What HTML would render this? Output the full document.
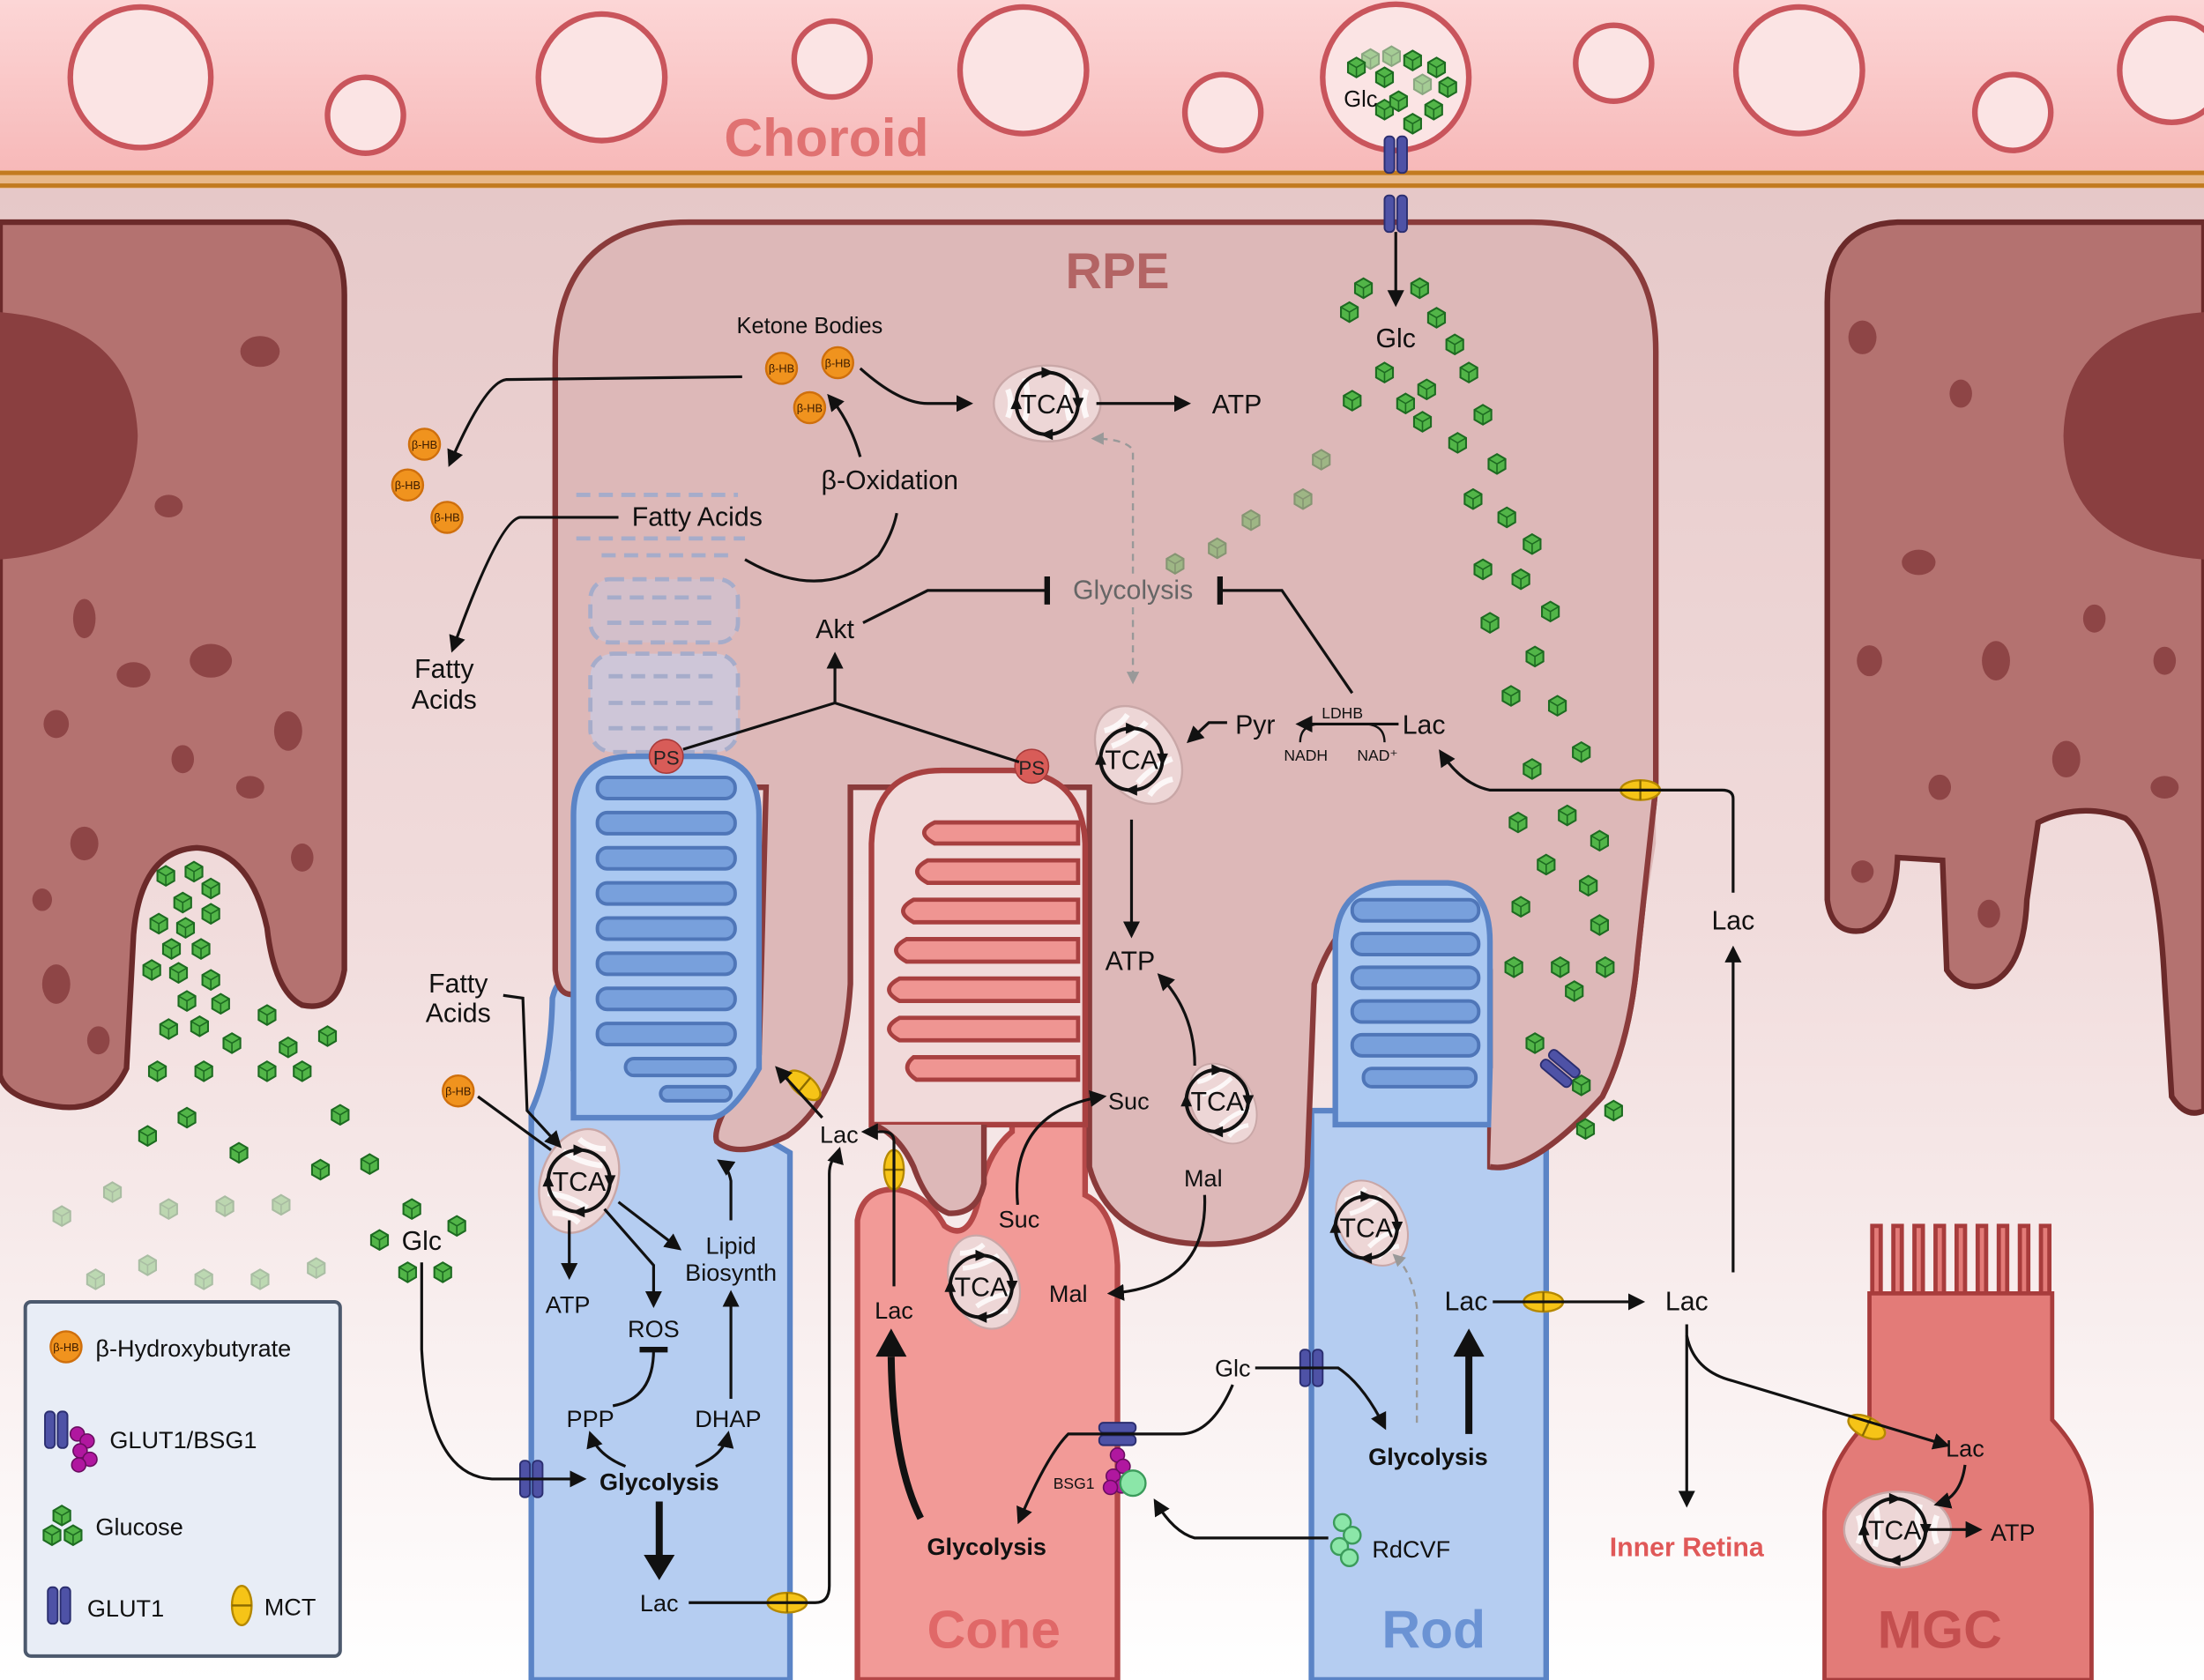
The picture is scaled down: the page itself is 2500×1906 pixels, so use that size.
<!DOCTYPE html>
<html><head><meta charset="utf-8"><style>
html,body{margin:0;padding:0;background:#fff}
svg{display:block}
text{font-family:"Liberation Sans",sans-serif}
</style></head><body>
<svg width="2500" height="1906" viewBox="0 0 1568 1195" preserveAspectRatio="none" xmlns="http://www.w3.org/2000/svg">
<defs>
<linearGradient id="bg" x1="0" y1="0" x2="0" y2="1">
<stop offset="0" stop-color="#e3c3c3"/><stop offset="0.55" stop-color="#f1dcdc"/><stop offset="1" stop-color="#ffffff"/></linearGradient>
<linearGradient id="ch" x1="0" y1="0" x2="0" y2="1">
<stop offset="0" stop-color="#fcd6d6"/><stop offset="1" stop-color="#f7b9b9"/></linearGradient>
<marker id="a" viewBox="0 0 10 10" refX="8" refY="5" markerWidth="6" markerHeight="6" orient="auto"><path d="M0,0L10,5L0,10Z" fill="#111"/></marker>
<marker id="ag" viewBox="0 0 10 10" refX="8" refY="5" markerWidth="6" markerHeight="6" orient="auto"><path d="M0,0L10,5L0,10Z" fill="#999"/></marker>
<marker id="t" viewBox="0 0 4 20" refX="2" refY="10" markerWidth="4" markerHeight="20" markerUnits="userSpaceOnUse" orient="auto"><rect x="0" y="0" width="4" height="20" fill="#111"/></marker>
<g id="gc"><polygon points="0,-7 6,-3.5 6,3.5 0,7 -6,3.5 -6,-3.5" fill="#52b548" stroke="#1d6b21" stroke-width="1.3"/><path d="M-6,-3.5L0,0L6,-3.5M0,0L0,7" stroke="#1d6b21" stroke-width="1" fill="none"/></g>
<g id="mito"><ellipse cx="0" cy="0" rx="38" ry="27" fill="#edd6d6" stroke="#c9a7a7" stroke-width="1.5"/><path d="M-28,-10 q4,10 0,20 M-16,-18 q4,15 0,30 M16,-18 q-4,15 0,30 M28,-10 q-4,10 0,20" stroke="#fff" stroke-width="4" fill="none" opacity=".8"/></g>
<g id="cyc"><circle r="22" fill="none" stroke="#111" stroke-width="2.5"/><path d="M-4,-26L5,-22L-4,-18Z M26,-4L22,5L18,-4Z M4,26L-5,22L4,18Z M-26,4L-22,-5L-18,4Z" fill="#111"/></g>
<g id="hb"><circle r="11" fill="#f0931e" stroke="#cf6f0c" stroke-width="1.5"/></g>
<g id="mct"><ellipse rx="14" ry="7" fill="#f6c417" stroke="#b58800" stroke-width="1.5"/><line x1="0" y1="-7" x2="0" y2="7" stroke="#8a6a00" stroke-width="1.5"/></g>
<g id="glv"><rect x="-8" y="-13" width="7" height="26" rx="3" fill="#4e52a6" stroke="#2b2e70" stroke-width="1.2"/><rect x="1" y="-13" width="7" height="26" rx="3" fill="#4e52a6" stroke="#2b2e70" stroke-width="1.2"/></g>
<g id="glh"><rect x="-13" y="-8" width="26" height="7" rx="3" fill="#4e52a6" stroke="#2b2e70" stroke-width="1.2"/><rect x="-13" y="1" width="26" height="7" rx="3" fill="#4e52a6" stroke="#2b2e70" stroke-width="1.2"/></g>
</defs>

<rect width="1568" height="1195" fill="url(#bg)"/>
<rect width="1568" height="121" fill="url(#ch)"/>
<g fill="#fbe4e4" stroke="#c9555c" stroke-width="4">
<circle cx="100" cy="55" r="50"/><circle cx="260" cy="82" r="27"/><circle cx="428" cy="55" r="45"/><circle cx="592" cy="42" r="27"/>
<circle cx="728" cy="50" r="45"/><circle cx="870" cy="80" r="27"/><circle cx="993" cy="55" r="52"/><circle cx="1148" cy="45" r="27"/>
<circle cx="1280" cy="50" r="45"/><circle cx="1432" cy="80" r="27"/><circle cx="1545" cy="50" r="37"/></g>
<text x="588" y="111" font-size="38" font-weight="bold" fill="#e07272" text-anchor="middle">Choroid</text>
<rect x="0" y="121" width="1568" height="13" fill="#e8b88a"/>
<line x1="0" y1="123" x2="1568" y2="123" stroke="#c27a1f" stroke-width="3"/>
<line x1="0" y1="132" x2="1568" y2="132" stroke="#c27a1f" stroke-width="3"/>

<path d="M0,158 L205,158 Q245,162 245,210 L245,690 Q240,720 215,715 Q195,705 190,660 Q178,605 140,603 Q100,605 95,665 L90,760 Q75,792 40,787 Q5,782 0,765 Z" fill="#b47270" stroke="#6b2a2a" stroke-width="4"/>
<path d="M0,222 Q95,230 98,310 Q95,390 0,398 Z" fill="#8a3f40"/>
<g fill="#8e4546"><ellipse cx="185" cy="250" rx="14" ry="11"/><ellipse cx="120" cy="360" rx="10" ry="8"/><ellipse cx="60" cy="440" rx="8" ry="14"/><ellipse cx="150" cy="470" rx="15" ry="12"/><ellipse cx="205" cy="520" rx="10" ry="14"/><ellipse cx="95" cy="480" rx="12" ry="9"/><ellipse cx="40" cy="515" rx="9" ry="10"/><ellipse cx="178" cy="560" rx="10" ry="8"/><ellipse cx="215" cy="610" rx="8" ry="10"/><ellipse cx="60" cy="600" rx="10" ry="12"/><ellipse cx="40" cy="700" rx="10" ry="14"/><ellipse cx="70" cy="740" rx="8" ry="10"/><ellipse cx="130" cy="540" rx="8" ry="10"/><ellipse cx="30" cy="640" rx="7" ry="8"/></g>
<path d="M1568,158 L1350,158 Q1300,160 1300,215 L1300,640 Q1303,665 1325,662 Q1348,655 1350,610 L1382,612 L1385,690 Q1395,706 1415,700 Q1440,690 1442,640 L1450,585 Q1480,570 1512,582 Q1535,600 1540,700 L1545,780 Q1555,796 1568,790 Z" fill="#b47270" stroke="#6b2a2a" stroke-width="4"/>
<path d="M1568,222 Q1470,230 1468,310 Q1470,390 1568,398 Z" fill="#8a3f40"/>
<g fill="#8e4546"><ellipse cx="1325" cy="240" rx="10" ry="12"/><ellipse cx="1395" cy="280" rx="8" ry="10"/><ellipse cx="1365" cy="400" rx="12" ry="9"/><ellipse cx="1420" cy="470" rx="10" ry="14"/><ellipse cx="1330" cy="470" rx="9" ry="11"/><ellipse cx="1490" cy="440" rx="8" ry="10"/><ellipse cx="1540" cy="470" rx="8" ry="10"/><ellipse cx="1470" cy="540" rx="10" ry="13"/><ellipse cx="1380" cy="560" rx="8" ry="9"/><ellipse cx="1540" cy="560" rx="10" ry="8"/><ellipse cx="1415" cy="650" rx="8" ry="10"/><ellipse cx="1325" cy="620" rx="8" ry="8"/></g>

<path d="M378,1195 L378,790 Q392,760 393,710 Q398,690 408,705 L408,760 L540,760 L545,810 L562,820 L562,1195 Z" fill="#b5cdf1" stroke="#5b84c6" stroke-width="4"/>
<path d="M933,1195 L933,790 L1100,790 L1100,1195 Z" fill="#b5cdf1" stroke="#5b84c6" stroke-width="4"/>

<path d="M610,1195 L610,868 Q614,845 638,846 Q660,850 672,872 Q690,885 697,850 Q702,820 720,805 L720,790 L772,790 L772,850 Q793,860 795,900 L795,1195 Z" fill="#f29a97" stroke="#b54848" stroke-width="4"/>

<path d="M395,690 Q397,712 412,706 Q420,700 420,680 L420,560 L545,560 L540,750 Q505,800 510,812 Q525,825 560,808 Q600,780 605,700 L605,560 L775,560 L775,830 Q790,885 860,885 Q925,885 930,830 L935,700 Q955,640 1005,632 Q1055,640 1060,690 L1060,830 Q1090,835 1140,780 Q1160,740 1165,680 L1178,560 L1178,250 Q1178,158 1090,158 L490,158 Q395,158 395,260 Z" fill="#ddb8b8" stroke="#8a3b3b" stroke-width="4"/>
<text x="795" y="205" font-size="36" font-weight="bold" fill="#b36464" text-anchor="middle">RPE</text>

<g fill="none" stroke="#8fa8d3" stroke-width="3" stroke-dasharray="10,6" opacity=".7">
<rect x="420" y="412" width="105" height="45" rx="14" fill="#cfc3d3"/>
<rect x="420" y="465" width="105" height="70" rx="16" fill="#c8cce6"/>
<line x1="433" y1="481" x2="512" y2="481"/><line x1="433" y1="500" x2="512" y2="500"/><line x1="433" y1="518" x2="512" y2="518"/>
<line x1="432" y1="425" x2="510" y2="425"/><line x1="432" y1="443" x2="510" y2="443"/>
<line x1="428" y1="395" x2="520" y2="395"/><line x1="410" y1="352" x2="525" y2="352"/><line x1="410" y1="383" x2="530" y2="383"/>
</g>

<path d="M408,795 L408,580 Q408,538 450,538 L500,538 Q540,538 540,580 L540,760 Q520,795 505,795 Z" fill="#aac8f1" stroke="#5b84c6" stroke-width="4"/>
<g fill="#78a0dc" stroke="#4f76b8" stroke-width="2.5">
<rect x="425" y="553" width="98" height="15" rx="7"/><rect x="425" y="578" width="98" height="15" rx="7"/><rect x="425" y="603" width="98" height="15" rx="7"/><rect x="425" y="628" width="98" height="15" rx="7"/><rect x="425" y="653" width="98" height="15" rx="7"/><rect x="425" y="678" width="98" height="15" rx="7"/><rect x="425" y="703" width="98" height="15" rx="7"/><rect x="425" y="728" width="98" height="15" rx="7"/><rect x="445" y="753" width="78" height="12" rx="6"/><rect x="470" y="773" width="50" height="10" rx="5"/></g>

<path d="M620,800 L620,600 Q622,548 670,548 L720,548 Q770,550 772,600 L772,800 Z" fill="#f1dada" stroke="#a84040" stroke-width="4"/>
<g fill="#ef9592" stroke="#a84040" stroke-width="3">
<path d="M767,585 L665,585 Q650,592 665,600 L767,600 Z"/><path d="M767,612 L660,612 Q645,620 660,628 L767,628Z"/><path d="M767,640 L650,640 Q635,648 650,656 L767,656Z"/><path d="M767,668 L645,668 Q630,676 645,684 L767,684Z"/><path d="M767,696 L640,696 Q625,704 640,712 L767,712Z"/><path d="M767,724 L640,724 Q625,732 640,740 L767,740Z"/><path d="M767,752 L650,752 Q640,760 652,768 L767,768Z"/></g>
<path d="M622,800 L700,800 L700,842 Q695,864 675,863 Q660,858 650,830 Q640,808 622,800Z" fill="#ddb8b8"/>
<path d="M700,800 L700,842 Q695,864 675,863 Q660,858 650,830 Q640,808 622,800" fill="none" stroke="#8a3b3b" stroke-width="4"/>

<path d="M950,800 L950,670 Q952,628 995,628 L1030,628 Q1060,630 1060,670 L1060,800 Z" fill="#aac8f1" stroke="#5b84c6" stroke-width="4"/>
<g fill="#78a0dc" stroke="#4f76b8" stroke-width="2.5">
<rect x="962" y="640" width="90" height="15" rx="7"/><rect x="962" y="664" width="90" height="15" rx="7"/><rect x="962" y="688" width="90" height="15" rx="7"/><rect x="962" y="712" width="90" height="15" rx="7"/><rect x="962" y="736" width="90" height="15" rx="7"/><rect x="970" y="760" width="80" height="13" rx="6"/></g>
<path d="M1060,830 Q1090,835 1140,780 Q1160,740 1165,680 L1178,600 L1178,560 Q1150,600 1100,700 L1062,760 Z" fill="#ddb8b8"/>
<path d="M1060,830 Q1090,835 1140,780 Q1160,740 1165,680 L1178,560" fill="none" stroke="#8a3b3b" stroke-width="4"/>
<circle cx="474" cy="538" r="12" fill="#d85c58" stroke="#a83a3a"/><text x="474" y="544" font-size="14" text-anchor="middle" fill="#222">PS</text>
<circle cx="734" cy="545" r="12" fill="#d85c58" stroke="#a83a3a"/><text x="734" y="551" font-size="14" text-anchor="middle" fill="#222">PS</text>

<g fill="#e37b78" stroke="#a83c3c" stroke-width="3">
<rect x="1332" y="872" width="6" height="50"/><rect x="1347" y="872" width="6" height="50"/><rect x="1362" y="872" width="6" height="50"/><rect x="1377" y="872" width="6" height="50"/><rect x="1392" y="872" width="6" height="50"/><rect x="1407" y="872" width="6" height="50"/><rect x="1422" y="872" width="6" height="50"/><rect x="1437" y="872" width="6" height="50"/><rect x="1452" y="872" width="6" height="50"/>
<path d="M1298,1195 L1298,1075 Q1300,1040 1330,1010 L1330,920 L1460,920 L1460,1010 Q1488,1040 1488,1075 L1488,1195 Z"/></g>
<text x="1380" y="1172" font-size="38" font-weight="bold" fill="#c44f4f" text-anchor="middle">MGC</text>
<text x="707" y="1172" font-size="38" font-weight="bold" fill="#e06868" text-anchor="middle">Cone</text>
<text x="1020" y="1172" font-size="38" font-weight="bold" fill="#6b93d4" text-anchor="middle">Rod</text>

<g>
<g opacity=".5"><use href="#gc" x="975" y="42"/><use href="#gc" x="1012" y="60"/><use href="#gc" x="990" y="40"/></g>
<use href="#gc" x="965" y="48"/><use href="#gc" x="985" y="55"/><use href="#gc" x="1005" y="43"/><use href="#gc" x="1022" y="48"/><use href="#gc" x="1030" y="62"/><use href="#gc" x="985" y="78"/><use href="#gc" x="1005" y="88"/><use href="#gc" x="1020" y="78"/><use href="#gc" x="995" y="72"/>
<use href="#gc" x="970" y="205"/><use href="#gc" x="1010" y="205"/><use href="#gc" x="960" y="222"/><use href="#gc" x="1022" y="226"/><use href="#gc" x="1035" y="245"/><use href="#gc" x="985" y="265"/><use href="#gc" x="1045" y="265"/><use href="#gc" x="1015" y="277"/><use href="#gc" x="962" y="285"/><use href="#gc" x="1000" y="287"/><use href="#gc" x="1055" y="295"/><use href="#gc" x="1012" y="300"/><use href="#gc" x="1037" y="315"/><use href="#gc" x="1065" y="330"/><use href="#gc" x="1048" y="355"/><use href="#gc" x="1072" y="368"/><use href="#gc" x="1090" y="387"/><use href="#gc" x="1055" y="405"/><use href="#gc" x="1082" y="412"/><use href="#gc" x="1103" y="435"/><use href="#gc" x="1060" y="443"/><use href="#gc" x="1092" y="467"/><use href="#gc" x="1075" y="495"/><use href="#gc" x="1108" y="502"/><use href="#gc" x="1125" y="535"/><use href="#gc" x="1090" y="547"/><use href="#gc" x="1080" y="585"/><use href="#gc" x="1115" y="580"/><use href="#gc" x="1138" y="598"/><use href="#gc" x="1100" y="615"/><use href="#gc" x="1130" y="630"/><use href="#gc" x="1082" y="645"/><use href="#gc" x="1138" y="658"/><use href="#gc" x="1077" y="688"/><use href="#gc" x="1110" y="688"/><use href="#gc" x="1142" y="688"/><use href="#gc" x="1120" y="705"/><use href="#gc" x="1092" y="742"/><use href="#gc" x="1125" y="772"/><use href="#gc" x="1148" y="790"/><use href="#gc" x="1128" y="803"/>
<g opacity=".45"><use href="#gc" x="940" y="327"/><use href="#gc" x="927" y="355"/><use href="#gc" x="890" y="370"/><use href="#gc" x="866" y="390"/><use href="#gc" x="836" y="401"/></g>
<use href="#gc" x="118" y="623"/><use href="#gc" x="138" y="620"/><use href="#gc" x="150" y="632"/><use href="#gc" x="130" y="642"/><use href="#gc" x="113" y="657"/><use href="#gc" x="132" y="660"/><use href="#gc" x="150" y="650"/><use href="#gc" x="122" y="675"/><use href="#gc" x="143" y="675"/><use href="#gc" x="108" y="690"/><use href="#gc" x="127" y="692"/><use href="#gc" x="150" y="697"/><use href="#gc" x="133" y="712"/><use href="#gc" x="157" y="714"/><use href="#gc" x="120" y="732"/><use href="#gc" x="142" y="730"/><use href="#gc" x="190" y="722"/><use href="#gc" x="205" y="745"/><use href="#gc" x="165" y="742"/><use href="#gc" x="233" y="737"/><use href="#gc" x="145" y="762"/><use href="#gc" x="112" y="762"/><use href="#gc" x="190" y="762"/><use href="#gc" x="215" y="762"/><use href="#gc" x="242" y="793"/><use href="#gc" x="133" y="795"/><use href="#gc" x="105" y="808"/><use href="#gc" x="170" y="820"/><use href="#gc" x="228" y="832"/><use href="#gc" x="263" y="828"/><use href="#gc" x="293" y="860"/><use href="#gc" x="325" y="872"/><use href="#gc" x="270" y="882"/><use href="#gc" x="290" y="905"/><use href="#gc" x="315" y="905"/>
<g opacity=".35"><use href="#gc" x="44" y="865"/><use href="#gc" x="80" y="848"/><use href="#gc" x="120" y="860"/><use href="#gc" x="160" y="858"/><use href="#gc" x="200" y="857"/><use href="#gc" x="68" y="910"/><use href="#gc" x="105" y="900"/><use href="#gc" x="145" y="910"/><use href="#gc" x="185" y="910"/><use href="#gc" x="225" y="902"/></g>
</g>

<use href="#glv" x="993" y="110"/><use href="#glv" x="993" y="152"/>
<use href="#glh" transform="translate(1110 760) rotate(40)"/>
<use href="#glh" transform="translate(378 1052) rotate(90)"/>
<use href="#glh" transform="translate(933 973) rotate(90)"/>
<use href="#glh" x="795" y="1020"/>
<g fill="#b0179f" stroke="#6a0d60" stroke-width="1"><circle cx="795" cy="1035" r="5"/><circle cx="799" cy="1043" r="5"/><circle cx="792" cy="1050" r="5"/><circle cx="798" cy="1057" r="5"/><circle cx="790" cy="1058" r="5"/></g>
<circle cx="806" cy="1055" r="9" fill="#8be6a8" stroke="#3b9b5b" stroke-width="1.5"/>
<use href="#mct" transform="translate(572 772) rotate(40)"/>
<use href="#mct" transform="translate(636 832) rotate(90)"/>
<use href="#mct" x="560" y="1140"/>
<use href="#mct" x="1167" y="562"/>
<use href="#mct" x="1098" y="926"/>
<use href="#mct" transform="translate(1328 1015) rotate(25)"/>

<use href="#mito" transform="translate(745 287)"/><use href="#cyc" x="745" y="287"/>
<use href="#mito" transform="translate(810 537) rotate(55)"/><use href="#cyc" x="805" y="540"/>
<use href="#mito" transform="translate(412 840) rotate(-70)"/><use href="#cyc" x="412" y="840"/>
<use href="#mito" transform="translate(870 785) rotate(60) scale(.8)"/><use href="#cyc" x="866" y="783"/>
<use href="#mito" transform="translate(700 912) rotate(70) scale(.9)"/><use href="#cyc" x="698" y="915"/>
<use href="#mito" transform="translate(976 870) rotate(60) scale(.85)"/><use href="#cyc" x="972" y="873"/>
<use href="#mito" transform="translate(1350 1088)"/><use href="#cyc" x="1348" y="1088"/>
<g font-size="19" text-anchor="middle" fill="#111">
<text x="745" y="294">TCA</text><text x="805" y="547">TCA</text><text x="412" y="847">TCA</text><text x="866" y="790">TCA</text><text x="698" y="922">TCA</text><text x="972" y="880">TCA</text><text x="1348" y="1095">TCA</text></g>

<g font-size="8" text-anchor="middle" fill="#3a1a00">
<use href="#hb" x="556" y="262"/><text x="556" y="265">β-HB</text>
<use href="#hb" x="596" y="258"/><text x="596" y="261">β-HB</text>
<use href="#hb" x="576" y="290"/><text x="576" y="293">β-HB</text>
<use href="#hb" x="302" y="316"/><text x="302" y="319">β-HB</text>
<use href="#hb" x="290" y="345"/><text x="290" y="348">β-HB</text>
<use href="#hb" x="318" y="368"/><text x="318" y="371">β-HB</text>
<use href="#hb" x="326" y="776"/><text x="326" y="779">β-HB</text>
</g>

<g fill="#8be6a8" stroke="#3b9b5b" stroke-width="1.5"><circle cx="955" cy="1083" r="6"/><circle cx="962" cy="1092" r="6"/><circle cx="953" cy="1100" r="6"/><circle cx="960" cy="1108" r="6"/></g>

<g fill="none" stroke="#111" stroke-width="2">
<path d="M528,268 L360,270 Q345,272 320,330" marker-end="url(#a)"/>
<path d="M612,262 Q640,287 660,287 L690,287" marker-end="url(#a)"/>
<path d="M780,287 L845,287" marker-end="url(#a)"/>
<path d="M530,398 Q585,430 625,395 Q635,380 638,365"/>
<path d="M612,325 Q605,300 590,282" marker-end="url(#a)"/>
<path d="M440,368 L370,368 Q355,370 322,462" marker-end="url(#a)"/>
<path d="M486,533 L594,500 L725,542 M594,500 L594,466" marker-end="url(#a)"/>
<path d="M614,443 L660,420 L745,420" marker-end="url(#t)"/>
<path d="M962,493 L912,420 L868,420" marker-end="url(#t)"/>
<path d="M995,515 L924,515" marker-end="url(#a)"/>
<path d="M940,515 Q925,515 925,528" stroke-width="1.5"/>
<path d="M970,515 Q985,515 985,528" stroke-width="1.5"/>
<path d="M873,514 L860,514 L846,527" marker-end="url(#a)"/>
<path d="M805,583 L805,665" marker-end="url(#a)"/>
<path d="M850,758 Q850,720 825,694" marker-end="url(#a)"/>
<path d="M724,857 Q718,790 785,780" marker-end="url(#a)"/>
<path d="M857,850 Q860,915 790,920" marker-end="url(#a)"/>
<path d="M1233,905 L1233,675" marker-end="url(#a)"/>
<path d="M1233,635 L1233,568 Q1233,562 1225,562 L1060,562 Q1040,558 1025,535" marker-end="url(#a)"/>
<path d="M1062,926 L1168,926" marker-end="url(#a)"/>
<path d="M1200,942 L1200,1070" marker-end="url(#a)"/>
<path d="M1200,950 Q1205,975 1232,982 L1385,1028" marker-end="url(#a)"/>
<path d="M1398,1042 Q1395,1065 1378,1070" marker-end="url(#a)"/>
<path d="M1372,1088 L1408,1088" marker-end="url(#a)"/>
<path d="M893,973 L952,973 Q970,985 985,1015" marker-end="url(#a)"/>
<path d="M877,985 Q862,1020 840,1020 L760,1020 Q745,1035 725,1082" marker-end="url(#a)"/>
<path d="M945,1094 L850,1094 Q835,1090 822,1068" marker-end="url(#a)"/>
<path d="M636,915 L636,812 Q636,805 628,805 L615,805" marker-end="url(#a)"/>
<path d="M585,795 L553,760" marker-end="url(#a)"/>
<path d="M490,1140 L580,1140 Q590,1140 590,1128 L590,835 Q590,825 597,820"/>
<path d="M595,825 L597,818" marker-end="url(#a)"/>
<path d="M300,898 L300,960 Q305,1050 350,1052 L415,1052" marker-end="url(#a)"/>
<path d="M445,1043 Q425,1035 420,1020" marker-end="url(#a)"/>
<path d="M495,1043 Q515,1035 518,1020" marker-end="url(#a)"/>
<path d="M436,1000 Q465,995 465,960" marker-end="url(#t)"/>
<path d="M520,995 L520,920" marker-end="url(#a)"/>
<path d="M520,868 L520,840 Q518,830 512,826" marker-end="url(#a)"/>
<path d="M440,855 L483,888" marker-end="url(#a)"/>
<path d="M405,868 L405,908" marker-end="url(#a)"/>
<path d="M430,860 L465,900 L465,928" marker-end="url(#a)"/>
<path d="M358,708 L372,710 L375,790 L398,815" marker-end="url(#a)"/>
<path d="M340,780 L392,818"/>
<path d="M993,165 L993,216" marker-end="url(#a)"/>
</g>
<g fill="none" stroke="#999" stroke-width="1.5" stroke-dasharray="5,4">
<path d="M806,408 L806,320 Q800,312 778,312" marker-end="url(#ag)"/>
<path d="M806,432 L806,485" marker-end="url(#ag)"/>
<path d="M1008,1012 L1008,930 Q1005,905 992,893" marker-end="url(#ag)"/>
</g>
<g fill="none" stroke="#111" stroke-width="5">
<path d="M469,1068 L469,1110"/><path d="M1045,1020 L1045,962"/><path d="M655,1080 Q635,1040 634,965"/></g>
<path d="M458,1106 L480,1106 L469,1124Z M1034,965 L1056,965 L1045,945Z M623,965 L645,965 L634,945Z" fill="#111"/>

<g font-size="19" fill="#111" text-anchor="middle">
<text x="576" y="237" font-size="16">Ketone Bodies</text>
<text x="880" y="294">ATP</text>
<text x="633" y="348">β-Oxidation</text>
<text x="496" y="374">Fatty Acids</text>
<text x="316" y="482">Fatty</text><text x="316" y="504">Acids</text>
<text x="594" y="454">Akt</text>
<text x="806" y="426" fill="#666">Glycolysis</text>
<text x="893" y="522">Pyr</text>
<text x="955" y="511" font-size="11">LDHB</text>
<text x="1013" y="522">Lac</text>
<text x="929" y="541" font-size="11">NADH</text>
<text x="980" y="541" font-size="11">NAD⁺</text>
<text x="804" y="690">ATP</text>
<text x="803" y="789" font-size="17">Suc</text>
<text x="856" y="844" font-size="17">Mal</text>
<text x="725" y="873" font-size="17">Suc</text>
<text x="760" y="926" font-size="17">Mal</text>
<text x="993" y="247">Glc</text>
<text x="968" y="76" font-size="16">Glc</text>
<text x="1233" y="661">Lac</text>
<text x="1043" y="932">Lac</text>
<text x="1200" y="932">Lac</text>
<text x="877" y="979" font-size="17">Glc</text>
<text x="1016" y="1042" font-weight="bold" font-size="17">Glycolysis</text>
<text x="1200" y="1107" font-weight="bold" fill="#e05858">Inner Retina</text>
<text x="1398" y="1036" font-size="17">Lac</text>
<text x="1432" y="1096" font-size="17">ATP</text>
<text x="702" y="1106" font-weight="bold" font-size="17">Glycolysis</text>
<text x="1004" y="1108" font-size="17">RdCVF</text>
<text x="764" y="1059" font-size="11">BSG1</text>
<text x="636" y="938" font-size="17">Lac</text>
<text x="597" y="813" font-size="17">Lac</text>
<text x="326" y="706">Fatty</text><text x="326" y="727">Acids</text>
<text x="520" y="892" font-size="17">Lipid</text><text x="520" y="911" font-size="17">Biosynth</text>
<text x="404" y="934" font-size="17">ATP</text>
<text x="465" y="951" font-size="17">ROS</text>
<text x="420" y="1015" font-size="17">PPP</text>
<text x="518" y="1015" font-size="17">DHAP</text>
<text x="469" y="1060" font-weight="bold" font-size="17">Glycolysis</text>
<text x="469" y="1146" font-size="17">Lac</text>
<text x="300" y="889">Glc</text>
</g>

<rect x="18" y="926" width="224" height="252" rx="4" fill="#e8edf6" stroke="#4c596d" stroke-width="2.5"/>
<use href="#hb" x="47" y="958"/><text x="47" y="961" font-size="8" text-anchor="middle" fill="#3a1a00">β-HB</text>
<text x="68" y="965" font-size="17" fill="#111">β-Hydroxybutyrate</text>
<use href="#glv" x="40" y="1017"/>
<g fill="#b0179f" stroke="#6a0d60"><circle cx="55" cy="1020" r="5"/><circle cx="62" cy="1025" r="5"/><circle cx="57" cy="1032" r="5"/><circle cx="64" cy="1038" r="5"/><circle cx="56" cy="1042" r="5"/></g>
<text x="78" y="1030" font-size="17" fill="#111">GLUT1/BSG1</text>
<use href="#gc" x="44" y="1078"/><use href="#gc" x="37" y="1092"/><use href="#gc" x="52" y="1092"/>
<text x="68" y="1092" font-size="17" fill="#111">Glucose</text>
<use href="#glv" x="42" y="1142"/>
<text x="62" y="1150" font-size="17" fill="#111">GLUT1</text>
<use href="#mct" transform="translate(172 1142) rotate(90)"/>
<text x="188" y="1149" font-size="17" fill="#111">MCT</text>
</svg>
</body></html>
